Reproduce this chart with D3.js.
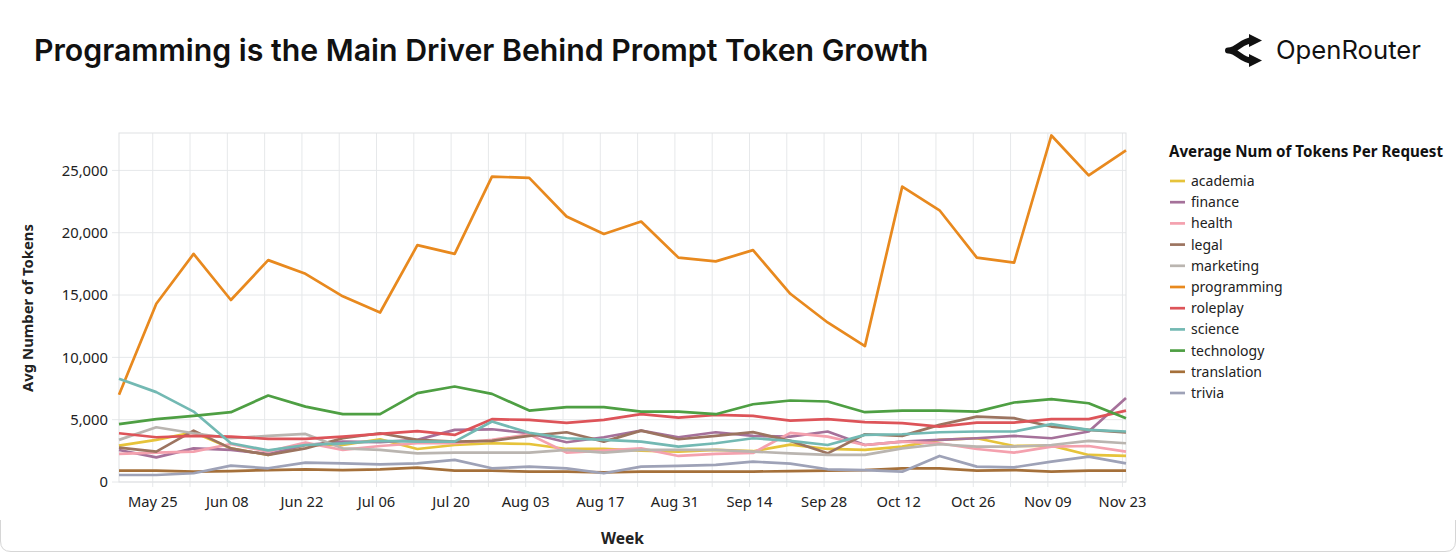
<!DOCTYPE html>
<html><head><meta charset="utf-8">
<script src="https://cdn.jsdelivr.net/npm/d3@7"></script>
<style>
html,body{margin:0;padding:0;background:#fff;}
svg{display:block;}
</style></head>
<body>
<svg id="chart" width="1456" height="557"></svg>
<script>
// ---- data ----
const weeks = ["2025-05-18","2025-05-25","2025-06-01","2025-06-08","2025-06-15","2025-06-22","2025-06-29",
"2025-07-06","2025-07-13","2025-07-20","2025-07-27","2025-08-03","2025-08-10","2025-08-17","2025-08-24",
"2025-08-31","2025-09-07","2025-09-14","2025-09-21","2025-09-28","2025-10-05","2025-10-12","2025-10-19",
"2025-10-26","2025-11-02","2025-11-09","2025-11-16","2025-11-23"];
const categories = ["academia","finance","health","legal","marketing","programming","roleplay","science","technology","translation","trivia"];
const academia    = [2920,3380,3990,2700,2170,2970,2970,3430,2650,2970,3110,3050,2650,2650,2520,2440,2570,2470,3000,2650,2570,2840,3380,3510,2890,2920,2170,2090];
const finance     = [2570,1980,2700,2570,2250,2970,3240,3200,3380,4180,4230,3910,3190,3590,4120,3590,3990,3700,3640,4050,2970,3240,3380,3510,3700,3510,4050,6730];
const health      = [2250,2360,2440,3050,2440,3160,2570,2890,3110,3110,3380,3820,2360,2520,2700,2090,2250,2330,3940,3640,2970,3240,3110,2650,2360,2840,2890,2440];
const legal       = [2760,2440,4120,2700,2170,2700,3510,3910,3380,3240,3300,3700,3990,3240,4120,3430,3700,4000,3300,2300,3830,3700,4580,5250,5120,4450,4180,3970];
const marketing   = [3380,4390,3910,3510,3700,3860,2700,2570,2300,2360,2360,2360,2570,2360,2570,2570,2570,2440,2300,2170,2170,2700,3030,2840,2840,2970,3300,3110];
const programming = [7000,14300,18300,14600,17800,16700,14900,13600,19000,18300,24500,24400,21300,19900,20900,18000,17700,18600,15100,12800,10900,23700,21800,18000,17600,27800,24600,26600];
const roleplay    = [3910,3590,3700,3640,3460,3460,3640,3860,4080,3780,5040,4980,4740,4980,5440,5170,5390,5300,4930,5040,4800,4720,4450,4770,4770,5040,5040,5730];
const science     = [8280,7210,5650,3110,2540,2970,3100,3300,3240,3240,4850,3950,3510,3380,3240,2840,3110,3510,3300,2970,3780,3830,3990,4050,4050,4640,4180,4050];
const technology  = [4640,5040,5300,5600,6940,6050,5440,5440,7130,7660,7070,5730,6000,6000,5650,5650,5440,6240,6540,6460,5600,5730,5730,5650,6380,6650,6320,5120];
const translation = [910,910,830,880,960,1020,960,1020,1150,910,910,830,830,780,830,830,830,830,880,910,960,1100,1100,910,960,830,910,910];
const trivia      = [560,560,700,1310,1100,1550,1500,1420,1500,1770,1100,1230,1100,700,1230,1290,1370,1630,1480,1020,960,830,2090,1230,1180,1630,2030,1500];
const yTicks = [0,5000,10000,15000,20000,25000];
const colors = ["#e6c33a","#a5719a","#f4a1ae","#9c7460","#bab5b0","#e8891e","#dd5459","#73b9b3","#4e9f43","#a5703a","#9ea2b7"];

const seriesValues = [academia,finance,health,legal,marketing,programming,roleplay,science,technology,translation,trivia];
const parse = d3.utcParse("%Y-%m-%d");
// data points are stamped 16h after each week boundary
const dates = weeks.map(s => d3.utcHour.offset(parse(s), 16));
const weekStarts = weeks.map(parse);
const series = categories.map((c,i)=>({name:c, values: seriesValues[i].map((v,j)=>({date:dates[j], v}))}));

const svg = d3.select("#chart");
const W = 1456;
const m = {l:119, t:133, r:1126, b:482};
const font = "'Noto Sans', 'Open Sans', sans-serif";

// fit a text element's font size to a target width
function fit(sel, width){
  const n = sel.node(); const fs = parseFloat(sel.attr("font-size"));
  const len = n.getComputedTextLength();
  if (len > 0) sel.attr("font-size", fs * width / len);
  return sel;
}

// card border (bottom part visible)
svg.append("path").attr("d",`M0.5,520 V541 Q0.5,551.5 11,551.5 H${W-11} Q${W-0.5},551.5 ${W-0.5},541 V520`)
  .attr("fill","none").attr("stroke","#d6d6d6").attr("stroke-width",1);

// title
fit(svg.append("text").attr("x",34).attr("y",61).text("Programming is the Main Driver Behind Prompt Token Growth")
  .attr("font-family","Inter, 'Noto Sans', sans-serif").attr("font-weight",600).attr("font-size",30).attr("fill","#111"), 895);

// logo
const lg = svg.append("g");
lg.append("path").attr("d","M1252,40.5 C1241,40.5 1238,50.5 1228,50.5 C1238,50.5 1241,60.5 1252,60.5")
  .attr("fill","none").attr("stroke","#111").attr("stroke-width",6).attr("stroke-linejoin","round").attr("stroke-linecap","round");
lg.append("path").attr("d","M1249,34 L1262,40.5 L1249,47 Z").attr("fill","#111");
lg.append("path").attr("d","M1249,54 L1262,60.5 L1249,67 Z").attr("fill","#111");
fit(svg.append("text").attr("x",1276).attr("y",59).text("OpenRouter")
  .attr("font-family","Inter, 'Noto Sans', sans-serif").attr("font-weight",400).attr("font-size",25).attr("fill","#111"), 145);

// scales
const x = d3.scaleUtc().domain([dates[0], dates[dates.length-1]]).range([m.l, m.r]);
const y = d3.scaleLinear().domain([0,28000]).range([m.b, m.t]);

// vertical weekly gridlines (week boundaries) with small ticks below axis
const gridWeeks = weekStarts.slice(1);
svg.append("g").selectAll("line").data(gridWeeks).join("line")
  .attr("x1",d=>x(d)).attr("x2",d=>x(d)).attr("y1",m.t).attr("y2",m.b+5)
  .attr("stroke","#e6e8ea").attr("stroke-width",1);

// horizontal grid
svg.append("g").selectAll("line").data(yTicks).join("line")
  .attr("x1",m.l-7).attr("x2",m.r).attr("y1",d=>y(d)).attr("y2",d=>y(d))
  .attr("stroke","#e6e8ea").attr("stroke-width",1);

// frame
svg.append("rect").attr("x",m.l).attr("y",m.t).attr("width",m.r-m.l).attr("height",m.b-m.t)
  .attr("fill","none").attr("stroke","#dfe1e3").attr("stroke-width",1);

// y tick labels
svg.append("g").selectAll("text").data(yTicks).join("text")
  .attr("x",m.l-11).attr("y",d=>y(d)).attr("dy","0.35em").attr("text-anchor","end")
  .text(d3.format(",")).attr("font-family",font).attr("font-size",14.8).attr("fill","#222");

// x tick labels (every two weeks)
const labelWeeks = gridWeeks.filter((d,i)=>i%2===0);
svg.append("g").selectAll("text").data(labelWeeks).join("text")
  .attr("x",d=>x(d)).attr("y",507).attr("text-anchor","middle")
  .text(d3.utcFormat("%b %d")).attr("font-family",font).attr("font-size",14.7).attr("fill","#222");

// axis titles
fit(svg.append("text").attr("transform",`translate(33,308) rotate(-90)`).attr("text-anchor","middle")
  .text("Avg Number of Tokens").attr("font-family",font).attr("font-weight",700).attr("font-size",14).attr("fill","#222"), 168);
fit(svg.append("text").attr("x",(m.l+m.r)/2).attr("y",544).attr("text-anchor","middle")
  .text("Week").attr("font-family",font).attr("font-weight",700).attr("font-size",16).attr("fill","#222"), 43);

// lines
const line = d3.line().x(d=>x(d.date)).y(d=>y(d.v));
svg.append("g").selectAll("path").data(series).join("path")
  .attr("d",d=>line(d.values)).attr("fill","none")
  .attr("stroke",(d,i)=>colors[i]).attr("stroke-width",2.7).attr("stroke-linejoin","round");

// legend
const leg = svg.append("g");
fit(leg.append("text").attr("x",1169).attr("y",157).text("Average Num of Tokens Per Request")
  .attr("font-family",font).attr("font-weight",700).attr("font-size",15.2).attr("fill","#111"), 274);
const items = leg.selectAll("g.it").data(categories).join("g").attr("class","it")
  .attr("transform",(d,i)=>`translate(1170,${181 + i*21.2})`);
items.append("line").attr("x1",0).attr("x2",15).attr("y1",0).attr("y2",0)
  .attr("stroke",(d,i)=>colors[i]).attr("stroke-width",2.7);
items.append("text").attr("x",21).attr("y",0).attr("dy","0.35em").text(d=>d)
  .attr("font-family",font).attr("font-size",14).attr("fill","#222");
</script>
</body></html>
